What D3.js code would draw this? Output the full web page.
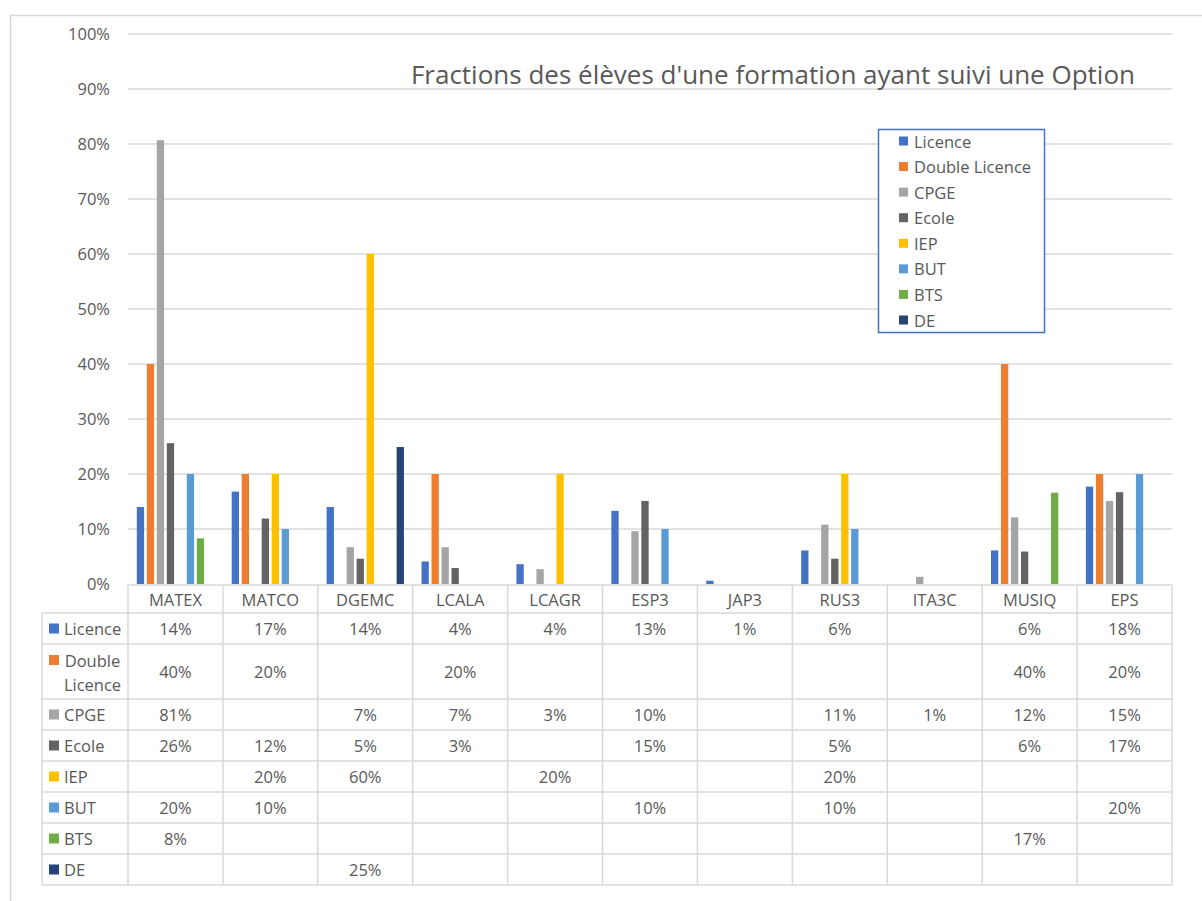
<!DOCTYPE html>
<html>
<head>
<meta charset="utf-8">
<script src="https://cdn.jsdelivr.net/npm/d3@7"></script>
<style>
  html, body { margin: 0; padding: 0; background: #fff; }
  svg { display: block; }
  text { font-family: "Open Sans", "Noto Sans", sans-serif; fill: #595959; }
</style>
</head>
<body>
<svg id="chart" width="1202" height="901"></svg>
<script>
const categories = ["MATEX", "MATCO", "DGEMC", "LCALA", "LCAGR", "ESP3", "JAP3", "RUS3", "ITA3C", "MUSIQ", "EPS"];
const seriesNames = ["Licence", "Double Licence", "CPGE", "Ecole", "IEP", "BUT", "BTS", "DE"];
const seriesColors = ["#4472C4", "#ED7D31", "#A5A5A5", "#636363", "#FFC000", "#5B9BD5", "#70AD47", "#264478"];

const licence       = [0.140, 0.168, 0.140, 0.041, 0.036, 0.133, 0.006, 0.061, null, 0.061, 0.177];
const doubleLicence = [0.400, 0.200, null, 0.200, null, null, null, null, null, 0.400, 0.200];
const cpge          = [0.807, null, 0.067, 0.067, 0.027, 0.096, null, 0.108, 0.013, 0.121, 0.151];
const ecole         = [0.256, 0.119, 0.046, 0.029, null, 0.151, null, 0.046, null, 0.059, 0.167];
const iep           = [null, 0.200, 0.600, null, 0.200, null, null, 0.200, null, null, null];
const but           = [0.200, 0.100, null, null, null, 0.100, null, 0.100, null, null, 0.200];
const bts           = [0.083, null, null, null, null, null, null, null, null, 0.166, null];
const de            = [null, null, 0.249, null, null, null, null, null, null, null, null];

const yTicks = [0, 0.1, 0.2, 0.3, 0.4, 0.5, 0.6, 0.7, 0.8, 0.9, 1.0];
const title = "Fractions des élèves d'une formation ayant suivi une Option";

const seriesValues = [licence, doubleLicence, cpge, ecole, iep, but, bts, de];

const svg = d3.select("#chart");
const grid = "#D9D9D9";
const fs = "16.5px";
const fmt = v => Math.round(v * 100) + "%";

// outer frame
svg.append("rect").attr("x", 10.5).attr("y", 15.5).attr("width", 1300).attr("height", 1000)
  .attr("fill", "#fff").attr("stroke", grid).attr("stroke-width", 1.5);

const plotLeft = 128, plotRight = 1172;
const y = d3.scaleLinear().domain([0, 1]).range([584, 34]);
const x0 = d3.scaleBand().domain(categories).range([plotLeft, plotRight]).padding(0);
const x1 = d3.scaleBand().domain(seriesNames).range([0, x0.bandwidth()]).paddingInner(0.27).paddingOuter(0.88);

// gridlines
svg.append("g").selectAll("line").data(yTicks.slice(1)).join("line")
  .attr("x1", plotLeft).attr("x2", plotRight)
  .attr("y1", d => y(d)).attr("y2", d => y(d))
  .attr("stroke", grid).attr("stroke-width", 1.3);

// y axis labels
const yAxis = d3.axisLeft(y).tickValues(yTicks).tickFormat(d3.format(".0%")).tickSize(0).tickPadding(0);
const yg = svg.append("g").attr("transform", "translate(110,0)").call(yAxis);
yg.select(".domain").remove();
yg.selectAll("text").style("font-family", "'Open Sans', sans-serif").style("font-size", fs).attr("fill", "#595959");

// title
svg.append("text").attr("x", 1135).attr("y", 84).attr("text-anchor", "end")
  .style("font-size", "26px").text(title);

// bars
const bars = [];
seriesNames.forEach((s, si) => {
  seriesValues[si].forEach((v, ci) => {
    if (v != null) bars.push({ s, si, c: categories[ci], v });
  });
});
svg.append("g").selectAll("rect").data(bars).join("rect")
  .attr("x", d => x0(d.c) + x1(d.s))
  .attr("width", x1.bandwidth())
  .attr("y", d => y(d.v))
  .attr("height", d => y(0) - y(d.v))
  .attr("fill", d => seriesColors[d.si]);

// table
const rowHeights = [28, 31, 55, 31, 31, 31, 31, 31, 31];
const rowTops = [];
let acc = 585;
rowHeights.forEach(h => { rowTops.push(acc); acc += h; });
const tableBottom = acc;
const labelLeft = 42;
const tg = svg.append("g");

// horizontal lines
tg.append("line").attr("x1", plotLeft).attr("x2", plotRight).attr("y1", 585).attr("y2", 585)
  .attr("stroke", grid).attr("stroke-width", 1.5);
for (let i = 1; i <= rowHeights.length; i++) {
  const yy = i < rowHeights.length ? rowTops[i] : tableBottom;
  tg.append("line").attr("x1", labelLeft).attr("x2", plotRight).attr("y1", yy).attr("y2", yy)
    .attr("stroke", grid).attr("stroke-width", 1.5);
}
// vertical lines
tg.append("line").attr("x1", labelLeft).attr("x2", labelLeft).attr("y1", rowTops[1]).attr("y2", tableBottom)
  .attr("stroke", grid).attr("stroke-width", 1.5);
const colEdges = categories.map(c => x0(c)).concat([plotRight]);
tg.selectAll("line.v").data(colEdges).join("line").attr("class", "v")
  .attr("x1", d => d).attr("x2", d => d).attr("y1", 585).attr("y2", tableBottom)
  .attr("stroke", grid).attr("stroke-width", 1.5);

// header
tg.selectAll("text.h").data(categories).join("text").attr("class", "h")
  .attr("x", d => x0(d) + x0.bandwidth() / 2).attr("y", rowTops[0] + rowHeights[0] / 2)
  .attr("text-anchor", "middle").attr("dominant-baseline", "central")
  .style("font-size", fs).text(d => d);

// row labels and values
seriesNames.forEach((s, si) => {
  const top = rowTops[si + 1], h = rowHeights[si + 1];
  const cy = top + h / 2;
  if (s === "Double Licence") {
    tg.append("rect").attr("x", 49).attr("y", top + 16 - 5).attr("width", 10).attr("height", 10).attr("fill", seriesColors[si]);
    tg.append("text").attr("x", 92.5).attr("y", top + 16).attr("text-anchor", "middle").attr("dominant-baseline", "central")
      .style("font-size", fs).text("Double");
    tg.append("text").attr("x", 92.5).attr("y", top + 40).attr("text-anchor", "middle").attr("dominant-baseline", "central")
      .style("font-size", fs).text("Licence");
  } else {
    tg.append("rect").attr("x", 49).attr("y", cy - 5).attr("width", 10).attr("height", 10).attr("fill", seriesColors[si]);
    tg.append("text").attr("x", 64).attr("y", cy).attr("dominant-baseline", "central")
      .style("font-size", fs).text(s);
  }
  seriesValues[si].forEach((v, ci) => {
    if (v == null) return;
    tg.append("text").attr("x", x0(categories[ci]) + x0.bandwidth() / 2).attr("y", cy)
      .attr("text-anchor", "middle").attr("dominant-baseline", "central")
      .style("font-size", fs).text(fmt(v));
  });
});

// legend
const lg = svg.append("g");
lg.append("rect").attr("x", 878.5).attr("y", 129.5).attr("width", 166).attr("height", 203)
  .attr("fill", "#fff").attr("stroke", "#4472C4").attr("stroke-width", 1.5);
const ly = d3.scalePoint().domain(seriesNames).range([141, 320]);
lg.selectAll("rect.sw").data(seriesNames).join("rect").attr("class", "sw")
  .attr("x", 899).attr("y", d => ly(d) - 4.5).attr("width", 9).attr("height", 9)
  .attr("fill", (d, i) => seriesColors[i]);
lg.selectAll("text").data(seriesNames).join("text")
  .attr("x", 914).attr("y", d => ly(d)).attr("dominant-baseline", "central")
  .style("font-size", fs).text(d => d);
</script>
</body>
</html>
